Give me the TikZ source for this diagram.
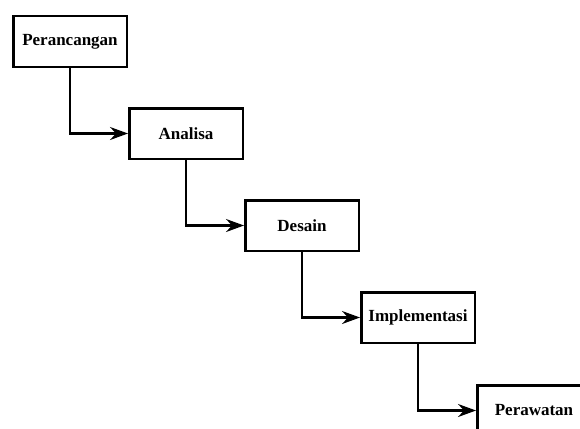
\documentclass[tikz,border=0pt]{standalone}
\usepackage{fontspec}
\setmainfont{Liberation Serif}
\usetikzlibrary{arrows,arrows.meta,positioning}

\begin{document}
\begin{tikzpicture}[x=1pt,y=1pt,
  stage/.style={rectangle,draw=black,line width=2.5pt,minimum width=113.5pt,minimum height=50.5pt,
    font=\fontsize{17}{20}\selectfont\bfseries},
  flow/.style={-{Stealth[length=18pt,width=13pt,inset=6pt]},line width=2.2pt}]
% \draw[help lines] (0,0) grid (580,-428);
\clip (0,0) rectangle (580,-428);
\node (a) [stage] at (70,-41.5) {Perancangan};
\node (b) [stage,below right=39pt and 0pt of a.south east,anchor=north west] {Analisa};
\node (c) [stage,below right=39pt and 0pt of b.south east,anchor=north west] {Desain};
\node (d) [stage,below right=39pt and 0pt of c.south east,anchor=north west] {Implementasi};
\node (e) [stage,below right=40pt and 0pt of d.south east,anchor=north west] {Perawatan};
%
\draw[flow] (a.south) |- (b.west);
\draw[flow] (b.south) |- (c.west);
\draw[flow] (c.south) |- (d.west);
\draw[flow] (d.south) |- (e.west);
\end{tikzpicture}
\end{document}
